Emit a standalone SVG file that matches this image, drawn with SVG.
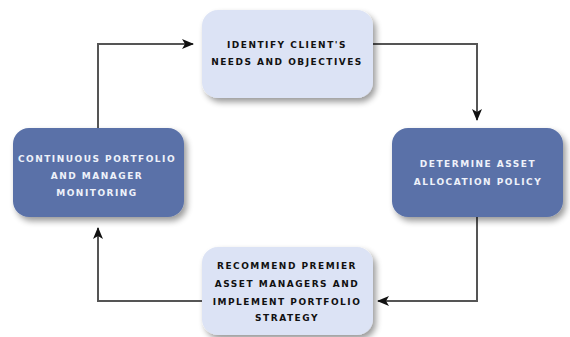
<svg xmlns="http://www.w3.org/2000/svg" width="570" height="337" viewBox="0 0 570 337">
<defs>
<filter id="sh" x="-20%" y="-20%" width="150%" height="160%">
<feGaussianBlur in="SourceAlpha" stdDeviation="3"/>
<feOffset dx="3" dy="4" result="b"/>
<feComponentTransfer><feFuncA type="linear" slope="0.4"/></feComponentTransfer>
<feMerge><feMergeNode/><feMergeNode in="SourceGraphic"/></feMerge>
</filter>
<marker id="ah" viewBox="0 0 12 10" refX="11" refY="5" markerWidth="12" markerHeight="10" markerUnits="userSpaceOnUse" orient="auto">
<path d="M0,0 L12,5 L0,10 L3,5 Z" fill="#111"/>
</marker>
<style>
.light{fill:#dce3f5}
.dark{fill:#5a71a8}
text{font-family:"DejaVu Sans","Liberation Sans",sans-serif;font-weight:bold;font-size:9px;letter-spacing:1.5px;text-anchor:middle}
.lt{fill:#111}
.dt{fill:#eef1fa}
.con{fill:none;stroke:#555;stroke-width:2}
</style>
</defs>
<rect width="570" height="337" fill="#fff"/>
<g id="connectors">
<path class="con" d="M98,128 V44 H193" marker-end="url(#ah)"/>
<path class="con" d="M373,44 H477 V120" marker-end="url(#ah)"/>
<path class="con" d="M477,217 V301 H378" marker-end="url(#ah)"/>
<path class="con" d="M202,301 H98 V228" marker-end="url(#ah)"/>
</g>
<g id="node-identify">
<rect class="light" x="202" y="10" width="171" height="88" rx="16" filter="url(#sh)"/>
<text class="lt" x="287" y="48">IDENTIFY CLIENT'S</text>
<text class="lt" x="287" y="65">NEEDS AND OBJECTIVES</text>
</g>
<g id="node-determine">
<rect class="dark" x="392" y="128" width="171" height="89" rx="16" filter="url(#sh)"/>
<text class="dt" x="478" y="167">DETERMINE ASSET</text>
<text class="dt" x="478" y="185">ALLOCATION POLICY</text>
</g>
<g id="node-recommend">
<rect class="light" x="202" y="247" width="171" height="88" rx="16" filter="url(#sh)"/>
<text class="lt" x="287" y="269">RECOMMEND PREMIER</text>
<text class="lt" x="287" y="287">ASSET MANAGERS AND</text>
<text class="lt" x="287" y="305">IMPLEMENT PORTFOLIO</text>
<text class="lt" x="287" y="321">STRATEGY</text>
</g>
<g id="node-monitoring">
<rect class="dark" x="13" y="128" width="171" height="89" rx="16" filter="url(#sh)"/>
<text class="dt" x="97" y="162">CONTINUOUS PORTFOLIO</text>
<text class="dt" x="97" y="179">AND MANAGER</text>
<text class="dt" x="97" y="196">MONITORING</text>
</g>
</svg>
